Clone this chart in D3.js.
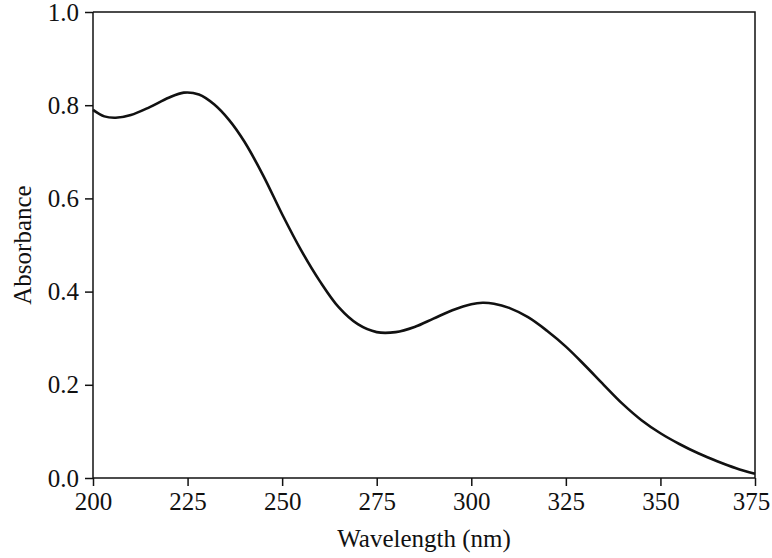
<!DOCTYPE html>
<html>
<head>
<meta charset="utf-8">
<script src="https://cdn.jsdelivr.net/npm/d3@7"></script>
<style>
  body { margin: 0; background: #fff; }
  text { font-family: "Liberation Serif", "Times New Roman", Times, serif; fill: #111; }
</style>
</head>
<body>
<svg id="chart" width="772" height="558"></svg>
<script>
// absorbance spectrum, values
const wavelength = [200, 203, 206, 210, 215, 220, 224, 228, 232, 236, 240, 245, 250, 255,
  260, 265, 270, 275, 280, 285, 290, 295, 300, 303, 306, 310, 315, 320, 325, 330, 335,
  340, 345, 350, 355, 360, 365, 370, 375]
const absorbance = [0.790, 0.776, 0.773, 0.779, 0.796, 0.816, 0.827, 0.823, 0.802, 0.768,
  0.722, 0.649, 0.566, 0.489, 0.422, 0.366, 0.330, 0.313, 0.313, 0.324, 0.342, 0.360,
  0.373, 0.376, 0.374, 0.365, 0.345, 0.316, 0.282, 0.242, 0.200, 0.159, 0.124, 0.096,
  0.073, 0.053, 0.036, 0.021, 0.009]
const xTicks = [200, 225, 250, 275, 300, 325, 350, 375]
const yTicks = [0.0, 0.2, 0.4, 0.6, 0.8, 1.0]

const margin = { top: 12, right: 17, bottom: 80, left: 93 }
const width = 772, height = 558
const serif = "'Liberation Serif', 'Times New Roman', Times, serif"

const svg = d3.select("#chart")

const x = d3.scaleLinear().domain([200, 375]).range([margin.left, width - margin.right])
const y = d3.scaleLinear().domain([0, 1]).range([height - margin.bottom, margin.top])

// frame top + right
svg.append("path")
  .attr("d", `M${x(200)},${y(1)}H${x(375)}V${y(0)}`)
  .attr("fill", "none")
  .attr("stroke", "#111")
  .attr("stroke-width", 1.5)

const xAxis = svg.append("g")
  .attr("transform", `translate(0,${y(0)})`)
  .call(d3.axisBottom(x).tickValues(xTicks).tickSize(8).tickPadding(6).tickFormat(d3.format("d")))
const yAxis = svg.append("g")
  .attr("transform", `translate(${x(200)},0)`)
  .call(d3.axisLeft(y).tickValues(yTicks).tickSize(8).tickPadding(6).tickFormat(d3.format(".1f")))

for (const ax of [xAxis, yAxis]) {
  ax.attr("font-family", serif)
  ax.select(".domain").attr("stroke", "#111").attr("stroke-width", 1.5)
  ax.selectAll(".tick line").attr("stroke", "#111").attr("stroke-width", 1.5)
  ax.selectAll(".tick text").attr("font-size", 25)
    .style("font-family", serif).attr("fill", "#111")
}
xAxis.select(".domain").attr("d", `M${x(200)},0H${x(375)}`)
yAxis.select(".domain").attr("d", `M0,${y(0)}V${y(1)}`)
// last label sits at the page edge, nudge it in
xAxis.selectAll(".tick text").filter(d => d === 375).attr("dx", -4)

const line = d3.line()
  .x((d, i) => x(wavelength[i]))
  .y(d => y(d))
  .curve(d3.curveCatmullRom.alpha(0.5))

svg.append("path")
  .datum(absorbance)
  .attr("d", line)
  .attr("fill", "none")
  .attr("stroke", "#111")
  .attr("stroke-width", 2.6)
  .attr("stroke-linejoin", "round")

svg.append("text")
  .attr("x", (x(200) + x(375)) / 2)
  .attr("y", 547)
  .attr("text-anchor", "middle")
  .attr("font-size", 25)
  .text("Wavelength (nm)")

svg.append("text")
  .attr("transform", `translate(31,${(y(0) + y(1)) / 2}) rotate(-90)`)
  .attr("text-anchor", "middle")
  .attr("font-size", 25)
  .text("Absorbance")
</script>
</body>
</html>
